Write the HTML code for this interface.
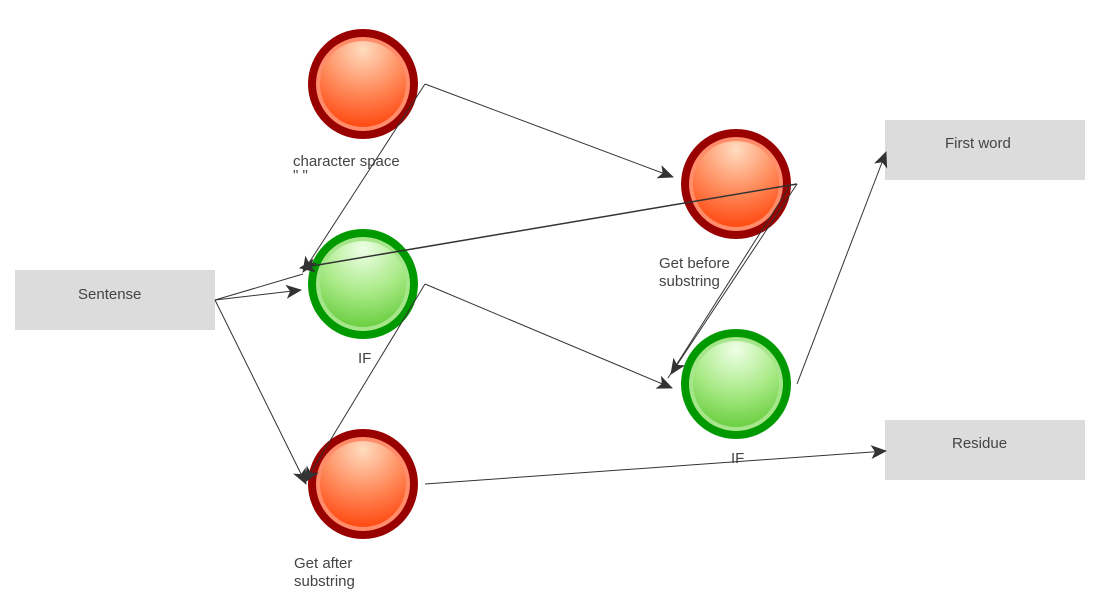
<!DOCTYPE html>
<html><head><meta charset="utf-8"><style>
html,body{margin:0;padding:0;background:#fff;width:1100px;height:600px;overflow:hidden}
text{font-family:"Liberation Sans",sans-serif;font-size:15px;fill:#444}
</style></head><body>
<svg width="1100" height="600" viewBox="0 0 1100 600" xmlns="http://www.w3.org/2000/svg">
<defs>
<radialGradient id="rg" cx="0.5" cy="0.1" r="1">
<stop offset="0" stop-color="#ffdcc0"/><stop offset="0.5" stop-color="#ff8a5a"/><stop offset="1" stop-color="#ff3a00"/>
</radialGradient>
<radialGradient id="gg" cx="0.5" cy="0.1" r="1">
<stop offset="0" stop-color="#eeffe6"/><stop offset="0.5" stop-color="#aaea88"/><stop offset="1" stop-color="#5cc830"/>
</radialGradient>
<marker id="a" markerWidth="16" markerHeight="14" refX="15" refY="7" orient="auto" markerUnits="userSpaceOnUse">
<path d="M0,0 L16,7 L0,14 L4,7 Z" fill="#333"/>
</marker>
</defs>
<rect x="15" y="270" width="200" height="60" fill="#dcdcdc"/>
<rect x="885" y="120" width="200" height="60" fill="#dcdcdc"/>
<rect x="885" y="420" width="200" height="60" fill="#dcdcdc"/>
<text x="78" y="299">Sentense</text>
<text x="945" y="148">First word</text>
<text x="952" y="448">Residue</text>

<g>
<circle cx="363" cy="84" r="55" fill="#990000"/><circle cx="363" cy="84" r="47" fill="#ff8c6a"/><circle cx="363" cy="84" r="43" fill="url(#rg)"/>
<circle cx="736" cy="184" r="55" fill="#990000"/><circle cx="736" cy="184" r="47" fill="#ff8c6a"/><circle cx="736" cy="184" r="43" fill="url(#rg)"/>
<circle cx="363" cy="484" r="55" fill="#990000"/><circle cx="363" cy="484" r="47" fill="#ff8c6a"/><circle cx="363" cy="484" r="43" fill="url(#rg)"/>
<circle cx="363" cy="284" r="55" fill="#009900"/><circle cx="363" cy="284" r="47" fill="#a6e68a"/><circle cx="363" cy="284" r="43" fill="url(#gg)"/>
<circle cx="736" cy="384" r="55" fill="#009900"/><circle cx="736" cy="384" r="47" fill="#a6e68a"/><circle cx="736" cy="384" r="43" fill="url(#gg)"/>
</g>

<text x="293" y="166">character space</text>
<text x="293" y="180">" "</text>
<text x="358" y="363">IF</text>
<text x="659" y="268">Get before</text>
<text x="659" y="286">substring</text>
<text x="731" y="463">IF</text>
<text x="294" y="568">Get after</text>
<text x="294" y="586">substring</text>

<g stroke="#333" stroke-width="1" fill="none">
<line x1="425" y1="84" x2="303" y2="272" marker-end="url(#a)"/>
<line x1="425" y1="84" x2="673" y2="177" marker-end="url(#a)"/>
<line x1="215" y1="300" x2="301" y2="290" marker-end="url(#a)"/>
<line x1="215" y1="300" x2="303" y2="274"/>
<line x1="215" y1="300" x2="306" y2="484" marker-end="url(#a)"/>
<line x1="797" y1="184" x2="300" y2="268" marker-end="url(#a)" stroke-width="1.5"/>
<line x1="797" y1="184" x2="671" y2="374" marker-end="url(#a)"/>
<line x1="790" y1="186" x2="668" y2="378"/>
<line x1="425" y1="284" x2="672" y2="388" marker-end="url(#a)"/>
<line x1="425" y1="284" x2="305" y2="482" marker-end="url(#a)"/>
<line x1="797" y1="384" x2="886" y2="152" marker-end="url(#a)"/>
<line x1="425" y1="484" x2="886" y2="451" marker-end="url(#a)"/>
</g>
</svg>
</body></html>
